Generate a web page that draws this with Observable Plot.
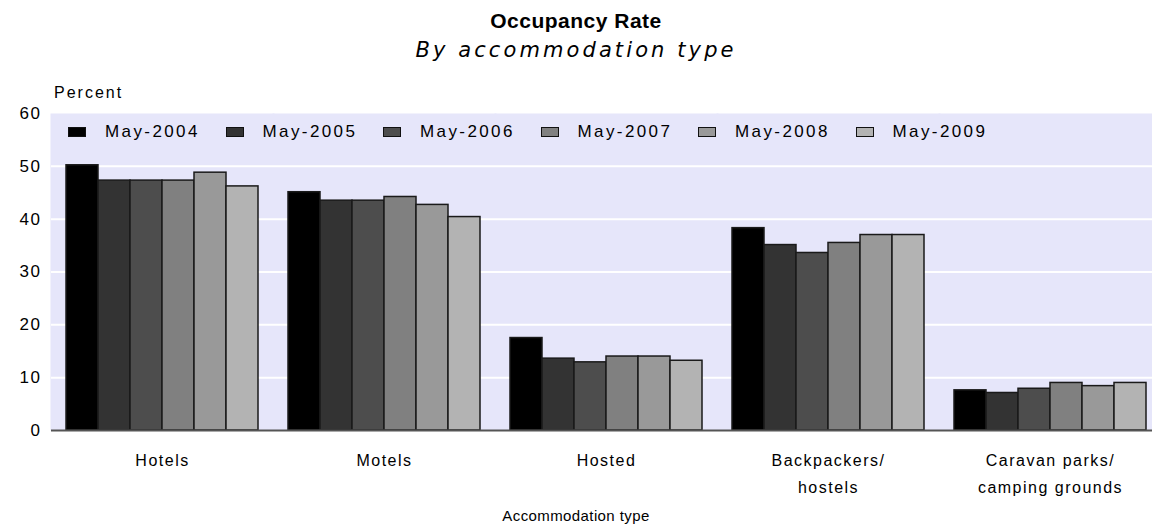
<!DOCTYPE html>
<html>
<head>
<meta charset="utf-8">
<script src="https://cdn.jsdelivr.net/npm/d3@7"></script>
<script src="https://cdn.jsdelivr.net/npm/@observablehq/plot@0.6"></script>
<style>
  html, body { margin: 0; padding: 0; background: #fff; overflow: hidden; }
  #wrap { position: relative; width: 1152px; height: 526px; overflow: hidden; font-family: "Liberation Sans", Arial, sans-serif; color: #000; }
  #title { position: absolute; left: 0; width: 1152px; top: 10px; text-align: center; font-size: 21px; line-height: 21px; font-weight: bold; letter-spacing: 0.5px; }
  #subtitle { position: absolute; left: 0; width: 1152px; top: 40px; text-align: center; font-family: "DejaVu Sans", sans-serif; font-size: 21px; line-height: 21px; font-style: italic; letter-spacing: 3.1px; }
  #ylabel { position: absolute; left: 54px; top: 84px; font-size: 16px; line-height: 17px; letter-spacing: 2px; }
  #xlabel { position: absolute; left: 0; width: 1152px; top: 507px; text-align: center; font-size: 15px; line-height: 17px; letter-spacing: 0.4px; z-index: 2; }
  #legend { position: absolute; left: 68px; top: 123px; display: flex; font-size: 17px; line-height: 17px; letter-spacing: 2.4px; z-index: 2; }
  #legend .item { width: 157.5px; display: flex; align-items: center; }
  #legend .sw { width: 16px; height: 8px; border: 1px solid #111; margin-right: 19px; }
  #chart { position: absolute; left: 0; top: 75px; z-index: 1; width: 1162px; }
  #chart svg { max-width: none !important; }
</style>
</head>
<body>
<div id="wrap">
  <div id="title"></div>
  <div id="subtitle"></div>
  <div id="ylabel"></div>
  <div id="chart"></div>
  <div id="legend"></div>
  <div id="xlabel"></div>
</div>
<script>
const titleText = "Occupancy Rate";
const subtitleText = "By accommodation type";
const yLabel = "Percent";
const xLabel = "Accommodation type";

const categories = ["Hotels", "Motels", "Hosted", "Backpackers/\nhostels", "Caravan parks/\ncamping grounds"];
const years = ["May-2004", "May-2005", "May-2006", "May-2007", "May-2008", "May-2009"];
const colors = ["#000000", "#333333", "#4d4d4d", "#808080", "#999999", "#b3b3b3"];

const may2004 = [50.2, 45.1, 17.5, 38.3, 7.6];
const may2005 = [47.3, 43.5, 13.6, 35.1, 7.1];
const may2006 = [47.3, 43.5, 12.9, 33.6, 7.9];
const may2007 = [47.3, 44.2, 14.0, 35.5, 9.0];
const may2008 = [48.8, 42.7, 14.0, 37.0, 8.4];
const may2009 = [46.2, 40.4, 13.2, 37.0, 9.0];
const yTicks = [0, 10, 20, 30, 40, 50, 60];
const gridTicks = [10, 20, 30, 40, 50];

const series = [may2004, may2005, may2006, may2007, may2008, may2009];
const rows = [];
series.forEach((vals, i) => vals.forEach((v, j) => rows.push({cat: categories[j], year: years[i], value: v})));

document.getElementById("title").textContent = titleText;
document.getElementById("subtitle").textContent = subtitleText;
document.getElementById("ylabel").textContent = yLabel;
document.getElementById("xlabel").textContent = xLabel;
const legend = document.getElementById("legend");
years.forEach((y, i) => {
  const it = document.createElement("div"); it.className = "item";
  const sw = document.createElement("div"); sw.className = "sw"; sw.style.background = colors[i];
  const t = document.createElement("span"); t.textContent = y;
  it.append(sw, t); legend.append(it);
});

const chart = Plot.plot({
  width: 1162,
  height: 451,
  marginLeft: 50,
  marginRight: 0,
  marginTop: 38,
  marginBottom: 96,
  style: {fontFamily: "'Liberation Sans', Arial, sans-serif", fontSize: "17px", letterSpacing: "1.5px", color: "#000", background: "transparent", overflow: "hidden", maxWidth: "none"},
  fx: {domain: categories, paddingInner: 0, paddingOuter: 0},
  x: {domain: years, paddingInner: 0, paddingOuter: 0.457, axis: null},
  y: {domain: [0, 60], axis: null},
  color: {domain: years, range: colors},
  marks: [
    Plot.frame({fill: "#e6e6fa", stroke: "none", insetLeft: -1, insetRight: -1}),
    Plot.gridY(gridTicks, {stroke: "#ffffff", strokeOpacity: 1, strokeWidth: 2}),
    Plot.barY(rows, {fx: "cat", x: "year", y: "value", fill: "year", stroke: "#1a1a1a", strokeWidth: 1.5}),
    Plot.ruleY([0], {stroke: "#555555", strokeWidth: 2}),
    Plot.axisY(yTicks, {anchor: "left", tickSize: 0, tickPadding: 10, label: null, fontSize: 17}),
    Plot.axisFx({anchor: "bottom", tickSize: 0, tickPadding: 17, lineHeight: 1.65, label: null, fontSize: 16})
  ]
});
document.getElementById("chart").append(chart);
</script>
</body>
</html>
